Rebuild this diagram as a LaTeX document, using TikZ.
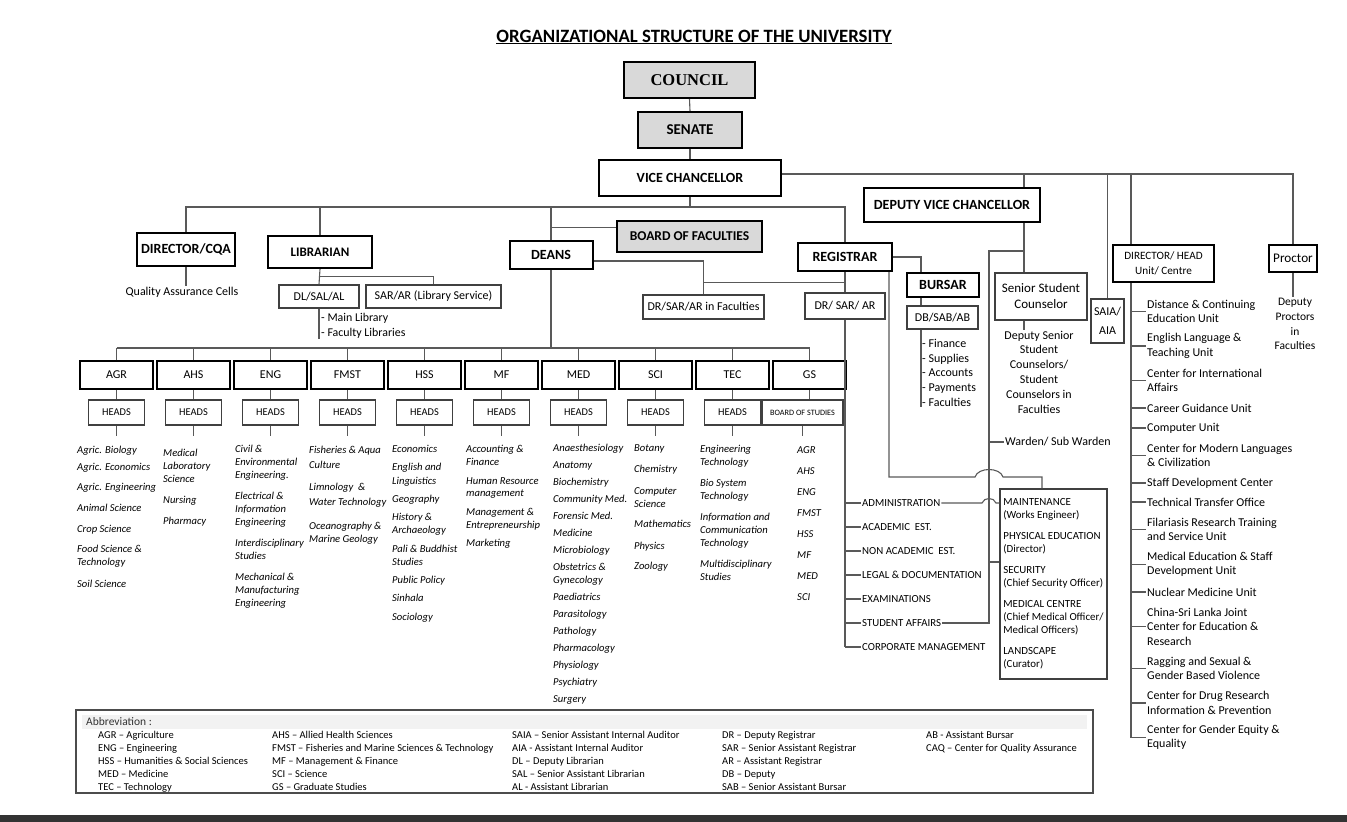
\documentclass[tikz,border=0pt]{standalone}
\usepackage{fontspec}
\setmainfont{Carlito}
\newfontfamily\councilfont{Liberation Serif}
\usetikzlibrary{calc}
\definecolor{orgfill}{HTML}{D9D9D9}
\definecolor{orgline}{HTML}{595959}
\definecolor{orgband}{HTML}{F2F2F2}

\begin{document}
\begin{tikzpicture}[x=1pt,y=-1pt,
  mainbox/.style={draw=black,line width=2pt,fill=white,inner sep=0pt,font=\bfseries\fontsize{14}{16}\selectfont},
  greybox/.style={mainbox,fill=orgfill},
  subbox/.style={draw=black!75,line width=1.1pt,fill=white,inner sep=0pt,align=center,font=\fontsize{12}{14}\selectfont},
  facbox/.style={draw=black,line width=1.8pt,minimum width=73pt,minimum height=28pt,inner sep=0pt,font=\fontsize{12}{14}\selectfont},
  headbox/.style={draw=black!75,line width=1.1pt,minimum width=56pt,minimum height=25pt,inner sep=0pt,font=\fontsize{10.4}{12}\selectfont},
  conn/.style={draw=orgline,line width=1.1pt},
  dept/.style={anchor=north west,align=left,inner sep=0pt,font=\itshape\fontsize{10.6}{13}\selectfont},
  regitem/.style={anchor=west,inner sep=1pt,font=\fontsize{10.8}{12}\selectfont},
  unititem/.style={anchor=west,align=left,inner sep=1pt,font=\fontsize{12}{14.5}\selectfont},
  plaintxt/.style={align=center,inner sep=1pt,font=\fontsize{12}{14.8}\selectfont},
  abbrtxt/.style={anchor=north west,align=left,inner sep=0pt,font=\fontsize{10.5}{13}\selectfont}]
  \useasboundingbox (0,0) rectangle (1347,822);

  % title and top of the tree
  \node[font=\bfseries\fontsize{18.8}{22}\selectfont] (title) at (694,37) {\underline{ORGANIZATIONAL STRUCTURE OF THE UNIVERSITY}};
  \node[greybox,minimum width=131pt,minimum height=36pt,font=\councilfont\bfseries\fontsize{16.5}{19}\selectfont] (council) at (689.5,80) {COUNCIL};
  \node[greybox,minimum width=104pt,minimum height=36pt,font=\bfseries\fontsize{15}{17}\selectfont] (senate) at (690,130) {SENATE};
  \node[mainbox,minimum width=182pt,minimum height=36pt] (vc) at (690,178) {VICE CHANCELLOR};
  \draw[conn] (council.south) -- (senate.north);
  \draw[conn] (senate.south) -- (vc.north);

  % left branch
  \node[mainbox,minimum width=98pt,minimum height=33pt] (dcqa) at (186,249.5) {DIRECTOR/CQA};
  \node[plaintxt] (qac) at (182,292) {Quality Assurance Cells};
  \node[mainbox,minimum width=104pt,minimum height=32pt,font=\bfseries\fontsize{13}{15}\selectfont] (lib) at (320,252) {LIBRARIAN};
  \node[subbox,minimum width=80pt,minimum height=23pt] (dl) at (319,296.5) {DL/SAL/AL};
  \node[subbox,minimum width=135pt,minimum height=23pt] (sarl) at (433.5,296.5) {SAR/AR (Library Service)};
  \node[plaintxt,anchor=north west,align=left,inner sep=0pt,font=\fontsize{11.9}{15}\selectfont] (libs) at (321,313) {- Main Library\\- Faculty Libraries};
  \node[mainbox,minimum width=83pt,minimum height=28pt] (deans) at (551,255) {DEANS};
  \node[greybox,minimum width=145pt,minimum height=31pt,font=\bfseries\fontsize{13.5}{15}\selectfont] (bof) at (689.5,236.5) {BOARD OF FACULTIES};
  \node[subbox,minimum width=121pt,minimum height=24pt] (drf) at (703.5,307) {DR/SAR/AR in Faculties};
  \node[mainbox,minimum width=94pt,minimum height=28pt] (reg) at (845,257) {REGISTRAR};
  \node[subbox,minimum width=80pt,minimum height=26pt] (drsar) at (845,306) {DR/ SAR/ AR};
  \node[mainbox,minimum width=72pt,minimum height=24pt] (bursar) at (943,285) {BURSAR};
  \node[subbox,minimum width=71pt,minimum height=23pt] (dbsab) at (942.5,317.5) {DB/SAB/AB};
  \node[plaintxt,anchor=north west,align=left,inner sep=0pt,font=\fontsize{12}{14.7}\selectfont] (fin) at (922,339) {- Finance\\- Supplies\\- Accounts\\- Payments\\- Faculties};

  \coordinate (vb) at (0,207);
  \coordinate (fb) at (0,348);
  \coordinate (hb) at (0,412.5);
  \coordinate (bx) at (921,0);
  \draw[conn] (vc.south) -- (vc.south |- vb);
  \draw[conn] (dcqa.north) -- (dcqa.north |- vb) -- (reg.north |- vb) -- (reg.north);
  \draw[conn] (lib.north) -- (lib.north |- vb);
  \draw[conn] (deans.north) -- (deans.north |- vb);
  \draw[conn] ([yshift=9pt]bof.west) -- ([yshift=9pt]bof.west -| deans.north);
  \draw[conn] (dcqa.south) -- (dcqa.south |- qac.north);
  \draw[conn] (lib.south) -- (dl.north);
  \draw[conn] ($(lib.south)!0.5!(dl.north)$) -| (sarl.north);
  \draw[conn] (dl.south) -- (dl.south |- libs.south);
  \draw[conn] ([yshift=-6pt]deans.east) -| (drf.north);
  \draw[conn] (reg.south) -- (drsar.north);
  \draw[conn] ($(reg.south)!0.5!(drsar.north)$) -| (drf.north);
  \draw[conn] (reg.east) -| (bx |- bursar.north);
  \draw[conn] (bx |- bursar.south) -- (bx |- dbsab.north);
  \draw[conn] (bx |- dbsab.south) -- (bx |- fin.south);

  % faculties
  \draw[conn] (deans.south) -- (deans.south |- fb);
  \foreach \n [count=\i from 0] in {AGR,AHS,ENG,FMST,HSS,MF,MED,SCI,TEC,GS}{
    \node[facbox] (f\n) at ({116.5+77*\i},375) {\n};
    \draw[conn] (f\n.north) -- (f\n.north |- fb);
  }
  \draw[conn] (fAGR.north |- fb) -- (fGS.north |- fb);
  \foreach \n in {AGR,AHS,ENG,FMST,HSS,MF,MED,SCI,TEC}{
    \node[headbox] (h\n) at (f\n |- hb) {HEADS};
  }
  \node[headbox,minimum width=81pt,font=\fontsize{8.2}{10}\selectfont] (hGS) at (802.5,412.5) {BOARD OF STUDIES};
  \foreach \n in {AGR,AHS,ENG,FMST,HSS,MF,MED,SCI,TEC,GS}{
    \draw[conn] (f\n.south) -- (f\n.south |- h\n.north);
    \draw[conn] (h\n.south) -- ++(0,10);
  }

  % departments
  \node[dept] (dAGR) at (77,446) {Agric. Biology\\[4pt]Agric. Economics\\[7pt]Agric. Engineering\\[8pt]Animal Science\\[8pt]Crop Science\\[7pt]Food Science \&\\Technology\\[9pt]Soil Science};
  \node[dept] (dAHS) at (163,449) {Medical\\Laboratory\\Science\\[8pt]Nursing\\[8pt]Pharmacy};
  \node[dept] (dENG) at (235,445) {Civil \&\\Environmental\\Engineering.\\[8pt]Electrical \&\\Information\\Engineering\\[8pt]Interdisciplinary\\Studies\\[8pt]Mechanical \&\\Manufacturing\\Engineering};
  \node[dept] (dFMST) at (309,446) {Fisheries \& Aqua\\[2pt]Culture\\[9pt]Limnology~ \&\\[2pt]Water Technology\\[11pt]Oceanography \&\\Marine Geology};
  \node[dept] (dHSS) at (392,445) {Economics\\[5pt]English and\\[1pt]Linguistics\\[5pt]Geography\\[5pt]History \&\\Archaeology\\[6pt]Pali \& Buddhist\\Studies\\[5pt]Public Policy\\[5pt]Sinhala\\[6pt]Sociology};
  \node[dept] (dMF) at (466,445) {Accounting \&\\Finance\\[6pt]Human Resource\\[-1pt]management\\[6pt]Management \&\\Entrepreneurship\\[5pt]Marketing};
  \node[dept] (dMED) at (553,444) {Anaesthesiology\\[4pt]Anatomy\\[4pt]Biochemistry\\[4pt]Community Med.\\[4pt]Forensic Med.\\[4pt]Medicine\\[4pt]Microbiology\\[4pt]Obstetrics \&\\Gynecology\\[4pt]Paediatrics\\[4pt]Parasitology\\[4pt]Pathology\\[4pt]Pharmacology\\[4pt]Physiology\\[4pt]Psychiatry\\[4pt]Surgery};
  \node[dept] (dSCI) at (634,444) {Botany\\[8pt]Chemistry\\[9pt]Computer\\Science\\[7pt]Mathematics\\[9pt]Physics\\[7pt]Zoology};
  \node[dept] (dTEC) at (700,445) {Engineering\\Technology\\[8pt]Bio System\\Technology\\[8pt]Information and\\Communication\\Technology\\[8pt]Multidisciplinary\\Studies};
  \node[dept] (dGS) at (797,446) {AGR\\[8pt]AHS\\[8pt]ENG\\[8pt]FMST\\[8pt]HSS\\[8pt]MF\\[8pt]MED\\[8pt]SCI};

  % registrar divisions
  \foreach \t [count=\i] in {ADMINISTRATION,ACADEMIC~ EST.,NON ACADEMIC~ EST.,LEGAL \& DOCUMENTATION,EXAMINATIONS,STUDENT AFFAIRS,CORPORATE MANAGEMENT}{
    \node[regitem] (reg\i) at (861,{479+24*\i}) {\t};
    \draw[conn] (drsar.south |- reg\i.west) -- (reg\i.west);
  }
  \draw[conn] (drsar.south) -- (drsar.south |- reg7.west);
  \node[draw=black!75,line width=1.1pt,align=left,minimum width=107pt,minimum height=190pt,inner sep=0pt,font=\fontsize{10.9}{13}\selectfont] (mbox) at (1053.5,584) {MAINTENANCE\\(Works Engineer)\\[8pt]PHYSICAL EDUCATION\\(Director)\\[8pt]SECURITY\\(Chief Security Officer)\\[8pt]MEDICAL CENTRE\\(Chief Medical Officer/\\Medical Officers)\\[8pt]LANDSCAPE\\(Curator)};

  % right branch
  \node[mainbox,minimum width=176pt,minimum height=34pt] (dvc) at (952,205) {DEPUTY VICE CHANCELLOR};
  \node[subbox,minimum width=92pt,minimum height=47pt,font=\fontsize{13}{16}\selectfont] (ssc) at (1041,296.5) {Senior Student\\Counselor};
  \node[plaintxt] (dssc) at (1039,372) {Deputy Senior\\Student\\Counselors/\\Student\\Counselors in\\Faculties};
  \node[plaintxt,anchor=west] (warden) at (1004,442) {Warden/ Sub Warden};
  \node[subbox,minimum width=33pt,minimum height=44pt,font=\fontsize{12}{14}\selectfont] (saia) at (1107.5,321) {SAIA/\\[5pt]AIA};
  \node[subbox,minimum width=101pt,minimum height=37pt,line width=1.6pt,draw=black,font=\fontsize{11.2}{14.5}\selectfont] (dirh) at (1163.5,263.5) {DIRECTOR/ HEAD\\Unit/ Centre};
  \node[subbox,minimum width=48pt,minimum height=27pt,line width=1.6pt,draw=black,font=\fontsize{13.2}{15}\selectfont] (proctor) at (1293,258.5) {Proctor};
  \node[plaintxt,font=\fontsize{11.5}{14.8}\selectfont] (dpro) at (1295,324) {Deputy\\Proctors\\in\\Faculties};

  \coordinate (dx) at (1024,0);
  \coordinate (ux) at (1131,0);
  \coordinate (wx) at (989,251);
  \coordinate (mt) at (989,562);
  \coordinate (mj) at (1042,477);
  \draw[conn] ([yshift=4pt]vc.east) -- ([yshift=4pt]vc.east -| proctor.north) -- (proctor.north);
  \draw[conn] (dx |- 0,174) -- (dx |- dvc.north);
  \draw[conn] (saia.north) -- (saia.north |- 0,174);
  \draw[conn] (ux |- 0,174) -- (ux |- dirh.north);
  \draw[conn] (proctor.south) -- (proctor.south |- dpro.north);
  \draw[conn] (dx |- dvc.south) -- (dx |- ssc.north);
  \draw[conn] (dx |- ssc.south) -- (dx |- dssc.north);
  \draw[conn] (dx |- wx) -- (wx) |- (reg6.east);
  \draw[conn] (wx |- warden.west) -- (warden.west);
  \draw[conn] (mt) -- (mt -| mbox.west);
  \draw[conn] (reg1.east) -- (982,503) .. controls (984,497) and (994,497) .. (996,503) -- (reg1.east -| mbox.west);
  \draw[conn] ([xshift=44pt]reg.south) -- (889,477) -- (975,477) .. controls (978,467) and (1000,467) .. (1003,477) -- (mj) -- (mj |- mbox.north);

  % units under director / head
  \foreach \y/\t [count=\i] in {311.5/{Distance \& Continuing\\Education Unit},346/{English Language \&\\Teaching Unit},380.5/{Center for International\\Affairs},408/{Career Guidance Unit},428/{Computer Unit},455.5/{Center for Modern Languages\\\& Civilization},483/{Staff Development Center},502/{Technical Transfer Office},529.5/{Filariasis Research Training\\and Service Unit},564.5/{Medical Education \& Staff\\Development Unit},592/{Nuclear Medicine Unit},626.5/{China-Sri Lanka Joint\\Center for Education \&\\Research},668.5/{Ragging and Sexual \&\\Gender Based Violence},703/{Center for Drug Research\\Information \& Prevention},737.5/{Center for Gender Equity \&\\Equality}}{
    \node[unititem] (u\i) at (1146,\y) {\t};
    \draw[conn] (ux |- u\i.west) -- (u\i.west);
  }
  \draw[conn] (ux |- dirh.south) -- (ux |- u15.west);

  % abbreviations
  \node[draw=black!70,line width=1.1pt,minimum width=1017pt,minimum height=83pt,inner sep=0pt] (abbr) at (584.5,751.5) {};
  \fill[orgband] (82,715) rectangle (1087,729);
  \node[anchor=west,inner sep=0pt,font=\fontsize{11.5}{13}\selectfont,black!80] (abbrt) at (86,722) {Abbreviation :};
  \node[abbrtxt] (ab1) at (98,731) {AGR – Agriculture\\ENG – Engineering\\HSS – Humanities \& Social Sciences\\MED – Medicine\\TEC – Technology};
  \node[abbrtxt] (ab2) at (272,731) {AHS – Allied Health Sciences\\FMST – Fisheries and Marine Sciences \& Technology\\MF – Management \& Finance\\SCI – Science\\GS – Graduate Studies};
  \node[abbrtxt] (ab3) at (512,731) {SAIA – Senior Assistant Internal Auditor\\AIA - Assistant Internal Auditor\\DL – Deputy Librarian\\SAL – Senior Assistant Librarian\\AL - Assistant Librarian};
  \node[abbrtxt] (ab4) at (722,731) {DR – Deputy Registrar\\SAR – Senior Assistant Registrar\\AR – Assistant Registrar\\DB – Deputy\\SAB – Senior Assistant Bursar};
  \node[abbrtxt] (ab5) at (926,731) {AB - Assistant Bursar\\CAQ – Center for Quality Assurance};

  \fill[black!80] (0,815) rectangle (1347,822);
\end{tikzpicture}
\end{document}
